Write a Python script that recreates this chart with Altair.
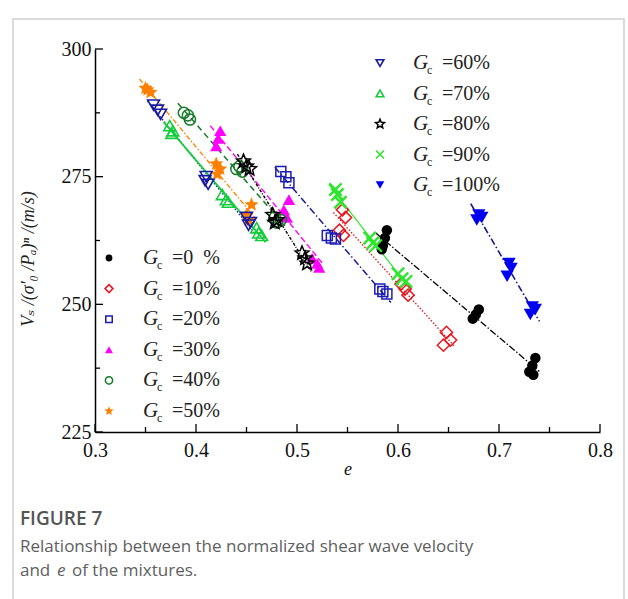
import math
import altair as alt
import pandas as pd

# ---------------- data ----------------
e_g0 = [0.589, 0.587, 0.585, 0.584, 0.680, 0.677, 0.674, 0.736, 0.733, 0.730, 0.734]
v_g0 = [264.5, 263.0, 261.5, 260.8, 249.0, 248.0, 247.2, 239.5, 238.0, 236.8, 236.2]
e_g10 = [0.545, 0.548, 0.542, 0.546, 0.603, 0.607, 0.610, 0.648, 0.652, 0.645]
v_g10 = [268.5, 267.0, 264.5, 263.5, 254.0, 253.0, 251.8, 244.5, 243.0, 242.0]
e_g20 = [0.484, 0.489, 0.492, 0.530, 0.534, 0.538, 0.582, 0.585, 0.589]
v_g20 = [276.0, 275.0, 273.8, 263.5, 263.0, 262.8, 253.0, 252.5, 252.0]
e_g30 = [0.424, 0.422, 0.420, 0.492, 0.487, 0.490, 0.515, 0.520, 0.522]
v_g30 = [284.0, 282.5, 281.0, 270.5, 268.5, 267.0, 259.0, 258.0, 257.2]
e_g40 = [0.388, 0.392, 0.394, 0.443, 0.446, 0.440, 0.478, 0.480, 0.484]
v_g40 = [287.5, 287.0, 286.2, 277.0, 276.0, 276.5, 267.0, 266.0, 266.5]
e_g50 = [0.352, 0.355, 0.350, 0.420, 0.424, 0.421, 0.455, 0.450, 0.452]
v_g50 = [292.0, 291.5, 292.3, 277.5, 276.5, 275.5, 269.5, 267.5, 266.5]
e_g60 = [0.358, 0.362, 0.365, 0.410, 0.412, 0.409, 0.450, 0.454, 0.452]
v_g60 = [289.0, 288.0, 287.2, 275.0, 273.5, 274.2, 267.0, 266.0, 265.5]
e_g70 = [0.374, 0.377, 0.376, 0.426, 0.430, 0.432, 0.460, 0.462, 0.465]
v_g70 = [285.0, 284.0, 283.5, 271.5, 270.5, 270.0, 265.0, 264.0, 263.5]
e_g80 = [0.447, 0.450, 0.453, 0.476, 0.480, 0.478, 0.505, 0.508, 0.510]
v_g80 = [278.0, 277.0, 276.5, 267.5, 266.5, 266.0, 260.0, 259.0, 258.0]
e_g90 = [0.538, 0.540, 0.543, 0.572, 0.575, 0.578, 0.600, 0.604, 0.608]
v_g90 = [272.5, 271.5, 270.0, 263.0, 262.0, 261.5, 256.0, 255.0, 254.5]
e_g100 = [0.680, 0.683, 0.678, 0.710, 0.712, 0.708, 0.733, 0.736, 0.731]
v_g100 = [267.5, 267.0, 266.5, 258.0, 257.0, 255.5, 249.5, 249.0, 248.0]

legend_left_labels = ["=0\u00a0\u00a0%", "=10%", "=20%", "=30%", "=40%", "=50%"]
legend_right_labels = ["=60%", "=70%", "=80%", "=90%", "=100%"]

x_major = [0.3, 0.4, 0.5, 0.6, 0.7, 0.8]
x_minor = [0.35, 0.45, 0.55, 0.65, 0.75]
y_major = [225, 250, 275, 300]
y_minor = [237.5, 262.5, 287.5]

y_title = "V\u209b /(\u03c3\u2032\u2080 /P\u2090)\u207f /(m/s)"
fig_label = "FIGURE 7"
caption_1 = "Relationship between the normalized shear wave velocity"
caption_2a = "and"
caption_2b = "e"
caption_2c = "of the mixtures."

# ---------------- styles ----------------
def star_path(inner=0.45):
    pts = []
    for i in range(10):
        r = 1.0 if i % 2 == 0 else inner
        a = -math.pi / 2 + i * math.pi / 5
        pts.append((r * math.cos(a), r * math.sin(a)))
    return "M" + "L".join(f"{x:.3f},{y:.3f}" for x, y in pts) + "Z"

STAR = star_path()
CROSS = "M-1,-1L1,1M-1,1L1,-1"

W, H = 505, 383
SERIF = "'Liberation Serif', 'Times New Roman', 'DejaVu Serif', serif"

xs = alt.Scale(domain=[0.3, 0.8], nice=False, zero=False)
ys = alt.Scale(domain=[225, 300], nice=False, zero=False)
xaxis = alt.Axis(values=x_major, format=".1f", ticks=False, grid=False,
                 domainColor="black", domainWidth=1.5, labelFont=SERIF,
                 labelFontSize=20, labelColor="#111", labelPadding=8,
                 labelFlush=False, labelOverlap=False,
                 title="e", titleFont=SERIF, titleFontStyle="italic",
                 titleFontWeight="normal", titleFontSize=18, titleColor="#111",
                 titlePadding=0)
yaxis = alt.Axis(values=y_major, format="d", ticks=False, grid=False,
                 domainColor="black", domainWidth=1.5, labelFont=SERIF,
                 labelFontSize=20, labelColor="#111", labelPadding=4,
                 labelFlush=False, labelOverlap=False, title=None)

# (e, v, shape, filled, color, size, strokeWidth, line color, dash, line width)
groups = [
    (e_g0, v_g0, "circle", True, "#000000", 110, 1, "#000000", [7, 2, 1.5, 2], 1.3),
    (e_g10, v_g10, "diamond", False, "#e8141e", 150, 1.5, "#e8141e", [1.5, 1.8], 1.3),
    (e_g20, v_g20, "square", False, "#1c1cb4", 100, 1.5, "#1c1c9c", [7, 2.5, 1.5, 2.5], 1.5),
    (e_g30, v_g30, "triangle-up", True, "#ff00ff", 150, 1, "#ff00ff", [6, 3], 1.4),
    (e_g40, v_g40, "circle", False, "#157a2a", 125, 1.5, "#157a2a", [6, 4], 1.5),
    (e_g50, v_g50, STAR, True, "#ff8000", 220, 1, "#ff8000", [5, 2, 1.5, 2], 1.3),
    (e_g60, v_g60, "triangle-down", False, "#1a1aa0", 140, 1.6, "#1a1aa0", [1.5, 1.8], 1.4),
    (e_g70, v_g70, "triangle-up", False, "#14cc3c", 140, 1.6, "#14cc3c", [1, 0], 1.8),
    (e_g80, v_g80, STAR, False, "#000000", 210, 1.5, "#000000", [3, 1.5, 1, 1.5], 1.4),
    (e_g90, v_g90, CROSS, False, "#2ee62e", 150, 2.4, "#2ee62e", [1, 0], 1.2),
    (e_g100, v_g100, "triangle-down", True, "#0000f0", 175, 1, "#16168c", [7, 2.5, 1.5, 2.5], 1.6),
]

one = pd.DataFrame({"k": [0]})
layers = []

# figure frame
layers.append(alt.Chart(one).mark_rect(fillOpacity=0, stroke="#cfcfcf", strokeWidth=1.5).encode(
    x=alt.value(-82), x2=alt.value(529), y=alt.value(-30), y2=alt.value(620)))

X = lambda f: alt.X(f"{f}:Q", scale=xs, axis=xaxis)
Y = lambda f: alt.Y(f"{f}:Q", scale=ys, axis=yaxis)

# fitted lines
for (e, v, shp, fil, col, sz, sw, lcol, dash, lw) in groups:
    df = pd.DataFrame({"e": e, "v": v})
    lo, hi = min(e) - 0.006, max(e) + 0.004
    layers.append(alt.Chart(df).transform_regression("e", "v", extent=[lo, hi]).mark_line(
        color=lcol, strokeDash=dash, strokeWidth=lw).encode(x=X("e"), y=Y("v")))

# points
for (e, v, shp, fil, col, sz, sw, lcol, dash, lw) in groups:
    df = pd.DataFrame({"e": e, "v": v})
    layers.append(alt.Chart(df).mark_point(
        shape=shp, filled=fil, color=col, size=sz, strokeWidth=sw, opacity=1).encode(
        x=X("e"), y=Y("v")))

# ticks (inward)
for vals, length in ((x_major, 8), (x_minor, 5)):
    layers.append(alt.Chart(pd.DataFrame({"t": vals})).mark_rule(color="black", strokeWidth=1.3).encode(
        x=X("t"), y=alt.value(H), y2=alt.value(H - length)))
for vals, length in ((y_major, 8), (y_minor, 5)):
    layers.append(alt.Chart(pd.DataFrame({"t": vals})).mark_rule(color="black", strokeWidth=1.3).encode(
        y=Y("t"), x=alt.value(0), x2=alt.value(length)))

# legends
def legend_block(group_list, labels, mx, gx, y0, dy):
    out = []
    for i, (g, lab) in enumerate(zip(group_list, labels)):
        e, v, shp, fil, col, sz, sw = g[:7]
        yy = y0 + i * dy
        msz = sz * 0.42
        out.append(alt.Chart(one).mark_point(shape=shp, filled=fil, color=col, size=msz,
                                             strokeWidth=min(sw, 1.6), opacity=1).encode(
            x=alt.value(mx), y=alt.value(yy)))
        out.append(alt.Chart(pd.DataFrame({"t": ["G"]})).mark_text(
            align="left", baseline="middle", font=SERIF, fontStyle="italic", fontSize=21,
            color="#222").encode(x=alt.value(gx), y=alt.value(yy), text="t:N"))
        out.append(alt.Chart(pd.DataFrame({"t": ["c"]})).mark_text(
            align="left", baseline="middle", font=SERIF, fontSize=12,
            color="#222").encode(x=alt.value(gx + 14), y=alt.value(yy + 7), text="t:N"))
        out.append(alt.Chart(pd.DataFrame({"t": [lab]})).mark_text(
            align="left", baseline="middle", font=SERIF, fontSize=20,
            color="#222").encode(x=alt.value(gx + 29), y=alt.value(yy), text="t:N"))
    return out

layers += legend_block(groups[:6], legend_left_labels, 14, 48, 209, 30.6)
layers += legend_block(groups[6:], legend_right_labels, 285, 318, 14, 30.5)

# y title
layers.append(alt.Chart(pd.DataFrame({"t": [y_title]})).mark_text(
    angle=270, align="center", baseline="middle", font=SERIF, fontStyle="italic",
    fontSize=18, color="#222").encode(x=alt.value(-66), y=alt.value(210), text="t:N"))

# caption
CAP_FONT = "'Open Sans', 'Noto Sans', sans-serif"
layers.append(alt.Chart(pd.DataFrame({"t": [fig_label]})).mark_text(
    align="left", baseline="alphabetic", font=CAP_FONT, fontSize=19, fontWeight=600,
    color="#555555").encode(x=alt.value(-75), y=alt.value(476), text="t:N"))
layers.append(alt.Chart(pd.DataFrame({"t": [caption_1]})).mark_text(
    align="left", baseline="alphabetic", font=CAP_FONT, fontSize=17,
    color="#606060").encode(x=alt.value(-75), y=alt.value(503), text="t:N"))
layers.append(alt.Chart(pd.DataFrame({"t": [caption_2a]})).mark_text(
    align="left", baseline="alphabetic", font=CAP_FONT, fontSize=17,
    color="#606060").encode(x=alt.value(-75), y=alt.value(527), text="t:N"))
layers.append(alt.Chart(pd.DataFrame({"t": [caption_2b]})).mark_text(
    align="left", baseline="alphabetic", font=CAP_FONT, fontSize=17, fontStyle="italic",
    color="#606060").encode(x=alt.value(-38), y=alt.value(527), text="t:N"))
layers.append(alt.Chart(pd.DataFrame({"t": [caption_2c]})).mark_text(
    align="left", baseline="alphabetic", font=CAP_FONT, fontSize=17,
    color="#606060").encode(x=alt.value(-23), y=alt.value(527), text="t:N"))

chart = alt.layer(*layers).properties(
    width=W, height=H,
    autosize=alt.AutoSizeParams(type="none"),
    padding={"left": 95, "top": 49, "right": 28, "bottom": 167},
    background="white",
).configure_view(stroke=None)

chart.save("out.html", embed_options={"renderer": "svg", "actions": False})
